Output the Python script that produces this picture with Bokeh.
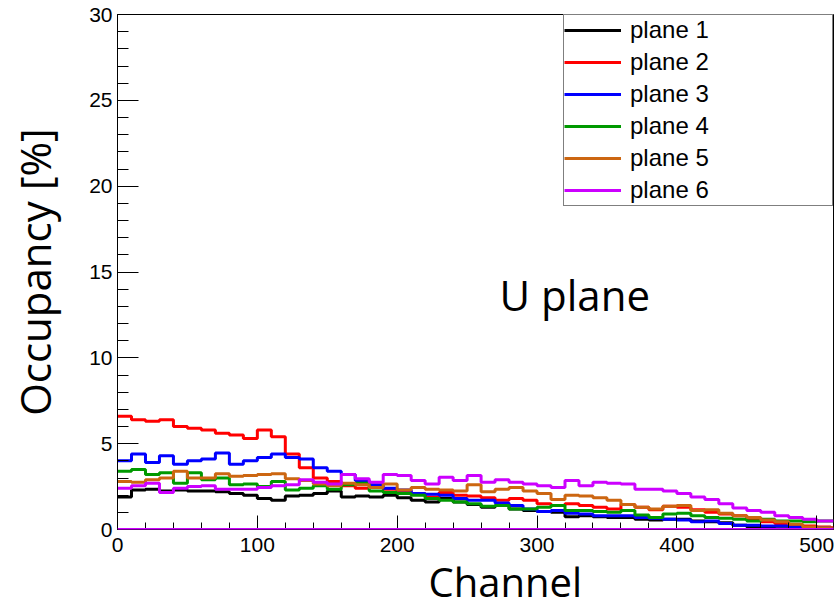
import numpy as np
from bokeh.plotting import figure
from bokeh.models import Range1d, FixedTicker, Legend, LegendItem, Label, Span, Title
from bokeh.embed import file_html
from bokeh.resources import INLINE

# ---- data (occupancy in %, 10-channel bins starting at 0,10,...,510) ----
bin_width = 10
n_channels = 512

plane1 = [1.9, 2.3, 2.35, 2.25, 2.3, 2.25, 2.25, 2.2, 2.1, 2.0,
          1.8, 1.7, 1.95, 2.0, 2.1, 2.25, 1.9, 1.95, 1.9, 2.0,
          1.85, 1.7, 1.6, 1.8, 1.6, 1.45, 1.3, 1.4, 1.2, 1.1,
          1.05, 1.0, 0.75, 0.8, 0.75, 0.7, 0.7, 0.6, 0.55, 0.6,
          0.6, 0.5, 0.45, 0.4, 0.25, 0.15, 0.1, 0.05, 0.0, 0.0,
          0.0, 0.0]
plane2 = [6.6, 6.4, 6.3, 6.4, 6.0, 5.9, 5.8, 5.6, 5.5, 5.3,
          5.8, 5.4, 4.4, 3.6, 3.0, 2.8, 2.55, 2.4, 2.45, 2.35,
          2.25, 2.1, 1.9, 2.15, 2.0, 1.95, 1.85, 1.7, 1.8, 1.7,
          1.5, 1.4, 1.5, 1.4, 1.3, 1.2, 1.45, 1.3, 1.15, 1.35,
          1.3, 1.15, 1.0, 0.9, 0.8, 0.55, 0.45, 0.35, 0.25, 0.2,
          0.15, 0.1]
plane3 = [4.0, 4.4, 3.9, 4.3, 3.8, 4.0, 4.1, 4.45, 3.8, 4.0,
          4.2, 4.4, 4.2, 4.1, 3.6, 3.4, 3.2, 2.85, 2.6, 2.4,
          2.3, 2.1, 2.05, 2.0, 1.8, 1.7, 1.7, 1.55, 1.4, 1.2,
          1.05, 1.1, 0.95, 0.9, 0.8, 0.8, 0.8, 0.7, 0.65, 0.6,
          0.55, 0.45, 0.5, 0.35, 0.25, 0.25, 0.2, 0.2, 0.15, 0.12,
          0.1, 0.05]
plane4 = [3.4, 3.5, 3.2, 3.3, 2.7, 3.3, 2.9, 3.0, 2.6, 2.65,
          2.5, 2.8, 2.3, 2.4, 2.55, 2.35, 2.6, 2.7, 2.25, 2.15,
          2.1, 2.0, 1.8, 1.7, 1.6, 1.5, 1.35, 1.4, 1.2, 1.2,
          1.3, 1.4, 1.1, 1.1, 1.05, 1.0, 1.1, 0.85, 0.7, 0.9,
          0.95, 0.8, 0.7, 0.65, 0.6, 0.5, 0.6, 0.5, 0.5, 0.45,
          0.5, 0.5]
plane5 = [2.8, 2.75, 2.9, 3.0, 3.4, 3.0, 3.0, 3.25, 3.1, 3.15,
          3.2, 3.25, 2.95, 2.85, 2.65, 2.55, 2.7, 2.6, 2.45, 2.65,
          2.3, 2.45, 2.35, 2.3, 2.25, 2.6, 2.2, 2.35, 2.45, 2.25,
          2.1, 1.75, 2.0, 1.95, 1.85, 1.7, 1.45, 1.3, 1.2, 1.35,
          1.4, 1.1, 1.15, 0.95, 0.8, 0.7, 0.55, 0.45, 0.3, 0.15,
          0.1, 0.05]
plane6 = [2.4, 2.55, 2.7, 2.15, 2.4, 2.5, 2.55, 2.35, 2.35, 2.35,
          2.45, 2.55, 2.6, 2.9, 2.75, 2.65, 3.2, 2.95, 2.75, 3.2,
          3.15, 2.85, 2.65, 3.05, 2.85, 3.15, 2.75, 2.9, 2.75, 2.65,
          2.55, 2.45, 2.85, 2.55, 2.75, 2.7, 2.65, 2.35, 2.35, 2.25,
          2.1, 1.9, 1.75, 1.5, 1.25, 1.1, 1.0, 0.8, 0.7, 0.6,
          0.5, 0.5]

series_names = ["plane 1", "plane 2", "plane 3", "plane 4", "plane 5", "plane 6"]
series_values = [plane1, plane2, plane3, plane4, plane5, plane6]
series_colors = ["#000000", "#ff0000", "#0000ff", "#009900", "#cc6611", "#cc00ff"]

x_ticks = [0, 100, 200, 300, 400, 500]
y_ticks = [0, 5, 10, 15, 20, 25, 30]

p = figure(width=836, height=610,
           x_range=Range1d(0, n_channels), y_range=Range1d(0, 30),
           output_backend="svg", toolbar_location=None,
           min_border_left=117, min_border_right=3,
           min_border_top=14, min_border_bottom=81)

p.xgrid.visible = False
p.ygrid.visible = False
p.outline_line_color = "black"
p.outline_line_alpha = 1.0
p.outline_line_width = 1
p.background_fill_color = "white"
p.border_fill_color = "white"

p.xaxis.ticker = FixedTicker(ticks=x_ticks, minor_ticks=list(range(0, n_channels + 1, 20)))
p.yaxis.ticker = FixedTicker(ticks=y_ticks, minor_ticks=list(range(0, 31)))

for ax in (p.xaxis[0], p.yaxis[0]):
    ax.axis_line_color = "black"
    ax.major_tick_line_color = "black"
    ax.minor_tick_line_color = "black"
    ax.major_tick_out = 0
    ax.minor_tick_out = 0
    ax.major_label_text_font = "Liberation Sans"
    ax.major_label_text_font_size = "21px"
    ax.major_label_text_color = "black"

p.xaxis.major_tick_in = 14
p.xaxis.minor_tick_in = 7
p.xaxis.major_label_standoff = 8
p.yaxis.major_tick_in = 21
p.yaxis.minor_tick_in = 11
p.yaxis.major_label_standoff = 5

p.yaxis.axis_label = "Occupancy [%]"
p.yaxis.axis_label_text_font = "Open Sans"
p.yaxis.axis_label_text_font_size = "42px"
p.yaxis.axis_label_text_font_style = "normal"
p.yaxis.axis_label_text_color = "black"
p.yaxis.axis_label_standoff = 23

edges = np.append(np.arange(0, n_channels, bin_width), n_channels)

items = []
for name, vals, col in zip(series_names, series_values, series_colors):
    yv = np.append(np.array(vals, dtype=float), vals[-1])
    r = p.step(edges, yv, mode="after", line_color=col, line_width=3)
    items.append(LegendItem(label=name, renderers=[r]))

p.add_layout(Span(location=0, dimension="width", line_color="#cc00ff", line_width=3))

legend = Legend(items=items, location="top_right", margin=0, padding=0,
                spacing=2, glyph_width=57, glyph_height=30,
                label_height=30, label_width=202, label_standoff=9,
                label_text_font="Liberation Sans", label_text_font_size="24px",
                label_text_color="black",
                border_line_color="black", border_line_width=1,
                background_fill_color="white", background_fill_alpha=1.0)
p.add_layout(legend)

p.add_layout(Label(x=327, y=13.7, text="U plane", text_font="Open Sans",
                   text_font_size="42px", text_align="center",
                   text_baseline="alphabetic", text_color="black"))

x_title = Title(text="Channel", align="left", offset=311, standoff=-2,
                vertical_align="top",
                text_font="Open Sans", text_font_size="40px",
                text_font_style="normal", text_color="black")
p.add_layout(x_title, "below")

open("out.html", "w").write(file_html(p, INLINE))
